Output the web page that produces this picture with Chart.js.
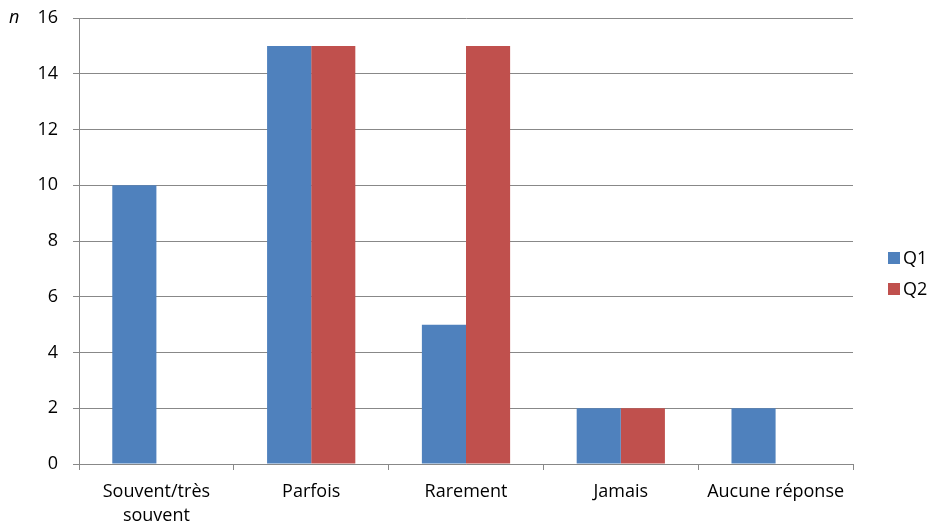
<!DOCTYPE html>
<html>
<head>
<meta charset="utf-8">
<script src="https://cdn.jsdelivr.net/npm/chart.js@4.4.0/dist/chart.umd.min.js"></script>
<style>
  html, body { margin: 0; padding: 0; background: #fff; }
  #wrap { width: 933px; height: 527px; position: relative; }
</style>
</head>
<body>
<div id="wrap"><canvas id="chart"></canvas></div>
<script>
const categories = [['Souvent/très', 'souvent'], 'Parfois', 'Rarement', 'Jamais', 'Aucune réponse'];
const q1Values = [10, 15, 5, 2, 2];
const q2Values = [0, 15, 15, 2, 0];
const seriesNames = ['Q1', 'Q2'];
const seriesColors = ['#4F81BD', '#C0504D'];
const yTicks = [0, 2, 4, 6, 8, 10, 12, 14, 16];

const FONT = '"Open Sans", "Liberation Sans", sans-serif';
const FONT_SIZE = 18;
const gridColor = '#888888';

// legend and the italic "n" drawn on the canvas
const extras = {
  id: 'extras',
  afterDraw(chart) {
    const ctx = chart.ctx;
    ctx.save();
    ctx.font = 'italic ' + FONT_SIZE + 'px ' + FONT;
    ctx.fillStyle = '#000';
    ctx.textBaseline = 'middle';
    ctx.textAlign = 'left';
    ctx.fillText('n', 9, chart.scales.y.getPixelForValue(16));

    ctx.font = FONT_SIZE + 'px ' + FONT;
    const y0 = 258, step = 31;
    seriesNames.forEach((name, i) => {
      const y = y0 + i * step;
      ctx.fillStyle = seriesColors[i];
      ctx.fillRect(888, y - 6, 12, 12);
      ctx.fillStyle = '#000';
      ctx.fillText(name, 903, y + 1);
    });
    ctx.restore();
  }
};

new Chart(document.getElementById('chart').getContext('2d'), {
  type: 'bar',
  data: {
    labels: categories,
    datasets: [
      { label: seriesNames[0], data: q1Values, backgroundColor: seriesColors[0] },
      { label: seriesNames[1], data: q2Values, backgroundColor: seriesColors[1] }
    ]
  },
  options: {
    responsive: true,
    maintainAspectRatio: false,
    animation: false,
    categoryPercentage: 0.57,
    barPercentage: 1,
    layout: { padding: { left: 0, right: 80, top: 18, bottom: 0 } },
    plugins: {
      legend: { display: false },
      tooltip: { enabled: false }
    },
    scales: {
      x: {
        offset: true,
        grid: {
          offset: true,
          drawOnChartArea: false,
          drawTicks: true,
          tickLength: 6,
          color: gridColor
        },
        border: { color: gridColor },
        ticks: {
          color: '#000',
          font: { family: FONT, size: FONT_SIZE, lineHeight: 1.33 },
          padding: 10,
          maxRotation: 0,
          autoSkip: false
        },
        afterFit(scale) { scale.height = 63; }
      },
      y: {
        min: 0,
        max: 16,
        afterBuildTicks(scale) { scale.ticks = yTicks.map(v => ({ value: v })); },
        grid: { color: gridColor, tickLength: 6 },
        border: { color: gridColor },
        ticks: {
          color: '#000',
          font: { family: FONT, size: FONT_SIZE },
          padding: 15
        },
        afterFit(scale) {
          scale.width = 79;
          scale.paddingTop = 0;
          scale.paddingBottom = 0;
        }
      }
    }
  },
  plugins: [extras]
});
</script>
</body>
</html>
